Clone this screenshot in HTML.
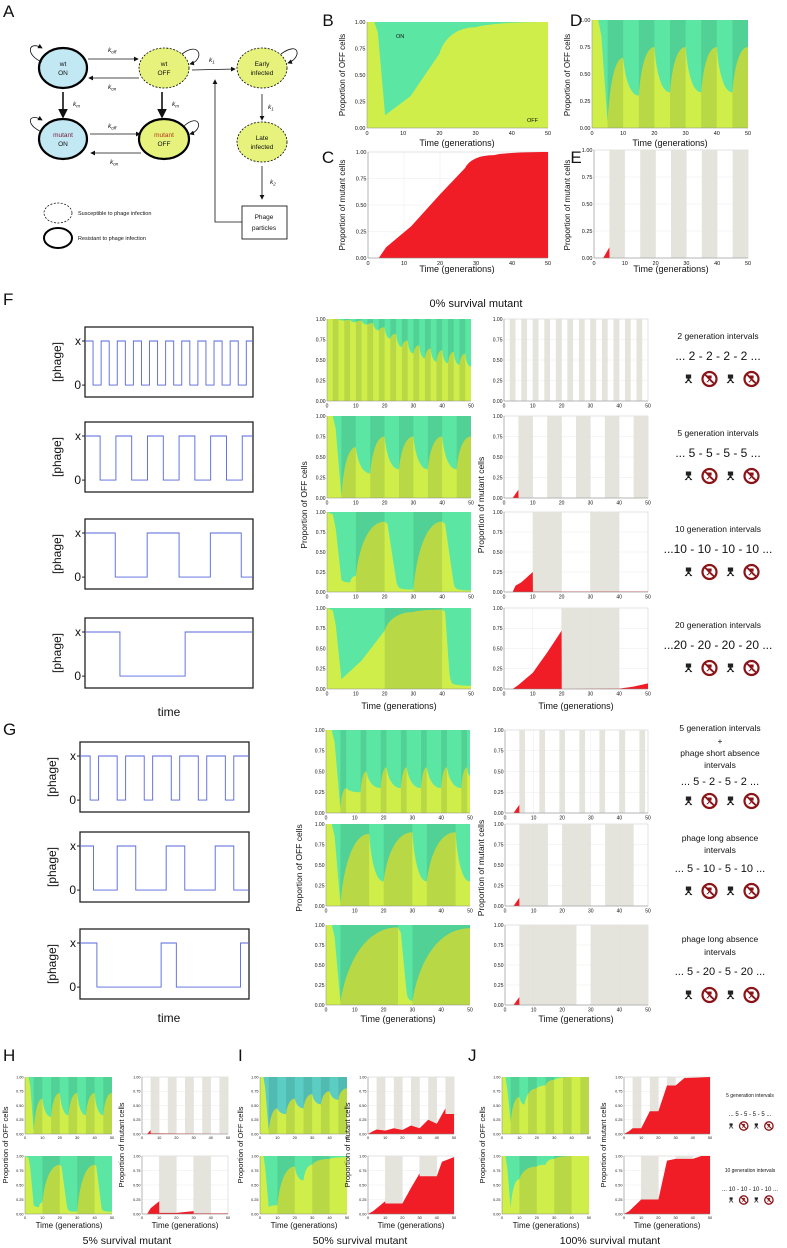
<!DOCTYPE html>
<html><head><meta charset="utf-8">
<style>
html,body{margin:0;padding:0;background:#fff;}
svg{display:block;font-family:"Liberation Sans",sans-serif;}
</style></head>
<body>
<svg id="fig" width="787" height="1248" viewBox="0 0 787 1248" xmlns="http://www.w3.org/2000/svg">
<defs>
<marker id="ah" markerWidth="6" markerHeight="6" refX="5" refY="3" orient="auto"><path d="M0,0 L6,3 L0,6 z" fill="#111"/></marker>
</defs>
<g font-size="6.5" fill="#111">
<text x="3" y="17" font-size="17">A</text>
<ellipse cx="63" cy="68" rx="24" ry="20" fill="#c2e8f4" stroke="#000" stroke-width="2.2"/>
<text x="63" y="66" text-anchor="middle">wt</text><text x="63" y="75" text-anchor="middle">ON</text>
<ellipse cx="164" cy="68" rx="25" ry="20" fill="#e6f27c" stroke="#000" stroke-width="0.8" stroke-dasharray="2,1.5"/>
<text x="164" y="66" text-anchor="middle">wt</text><text x="164" y="75" text-anchor="middle">OFF</text>
<ellipse cx="262" cy="68" rx="25" ry="20" fill="#e6f27c" stroke="#000" stroke-width="0.8" stroke-dasharray="2,1.5"/>
<text x="262" y="66" text-anchor="middle">Early</text><text x="262" y="75" text-anchor="middle">infected</text>
<ellipse cx="63" cy="139" rx="24" ry="20" fill="#c2e8f4" stroke="#000" stroke-width="2.2"/>
<text x="63" y="137" text-anchor="middle" fill="#7a1a3a">mutant</text><text x="63" y="146" text-anchor="middle">ON</text>
<ellipse cx="164" cy="139" rx="25" ry="20" fill="#e6f27c" stroke="#000" stroke-width="2.2"/>
<text x="164" y="137" text-anchor="middle" fill="#b23a1a">mutant</text><text x="164" y="146" text-anchor="middle">OFF</text>
<ellipse cx="262" cy="142" rx="25" ry="20" fill="#e6f27c" stroke="#000" stroke-width="0.8" stroke-dasharray="2,1.5"/>
<text x="262" y="140" text-anchor="middle">Late</text><text x="262" y="149" text-anchor="middle">infected</text>
<rect x="242" y="206" width="45" height="33" fill="#fff" stroke="#000" stroke-width="0.8"/>
<text x="264" y="219" text-anchor="middle">Phage</text><text x="264" y="230" text-anchor="middle">particles</text>
<g stroke="#111" stroke-width="0.8" fill="none" marker-end="url(#ah)">
<line x1="88" y1="59" x2="138" y2="59"/><line x1="139" y1="78" x2="89" y2="78"/>
<line x1="90" y1="134" x2="140" y2="134"/><line x1="141" y1="153" x2="91" y2="153"/>
<line x1="63" y1="92" x2="63" y2="117" stroke-width="1.6"/><line x1="162" y1="92" x2="162" y2="117" stroke-width="1.6"/>
<line x1="192" y1="70" x2="235" y2="69"/><line x1="262" y1="94" x2="262" y2="120"/><line x1="262" y1="166" x2="262" y2="199"/>
<polyline points="242,222 215,222 215,80"/>
<path d="M42,62 C25,55 28,40 42,48"/><path d="M182,54 C200,40 205,60 190,64"/><path d="M281,54 C300,40 302,58 288,63"/>
<path d="M42,132 C25,125 28,112 42,120"/><path d="M184,126 C200,112 204,130 190,134"/>
</g>
<g font-style="italic" font-size="6.5">
<text x="108" y="52">k<tspan font-size="4.5" dy="1.5">off</tspan></text>
<text x="108" y="89">k<tspan font-size="4.5" dy="1.5">on</tspan></text>
<text x="108" y="128">k<tspan font-size="4.5" dy="1.5">off</tspan></text>
<text x="110" y="164">k<tspan font-size="4.5" dy="1.5">on</tspan></text>
<text x="73" y="106">k<tspan font-size="4.5" dy="1.5">m</tspan></text>
<text x="172" y="106">k<tspan font-size="4.5" dy="1.5">m</tspan></text>
<text x="209" y="62">k<tspan font-size="4.5" dy="1.5">1</tspan></text>
<text x="268" y="109">k<tspan font-size="4.5" dy="1.5">1</tspan></text>
<text x="270" y="184">k<tspan font-size="4.5" dy="1.5">2</tspan></text>
</g>
<ellipse cx="58" cy="213" rx="14" ry="10" fill="none" stroke="#000" stroke-width="0.7" stroke-dasharray="2,1.5"/>
<text x="78" y="215" font-size="5.5">Susceptible to phage infection</text>
<ellipse cx="58" cy="238" rx="14" ry="10" fill="none" stroke="#000" stroke-width="2"/>
<text x="78" y="240" font-size="5.5">Resistant to phage infection</text>
</g>
<g id="dyn"></g>
</svg>
<script>
// ---------- data ----------
const yTicks = ["0.00","0.25","0.50","0.75","1.00"];
const yTickVals = [0,0.25,0.5,0.75,1];
const xTicks = [0,10,20,30,40,50];
const bands2 = [[2,4],[6,8],[10,12],[14,16],[18,20],[22,24],[26,28],[30,32],[34,36],[38,40],[42,44],[46,48]];
const bands5 = [[5,10],[15,20],[25,30],[35,40],[45,50]];
const bands10 = [[10,20],[30,40]];
const bands20 = [[20,40]];
const bands52 = [[5,7],[12,14],[19,21],[26,28],[33,35],[40,42],[47,49]];
const bands510 = [[5,15],[20,30],[35,45]];
const bands520 = [[5,25],[30,50]];
// OFF proportions [generation, value, linear?]
const offB = [[0,1],[2,1,1],[3,0.9,1],[5,0.12,1],[12,0.3,1],[20,0.7,1],[30,0.95],[50,1]];
const offD = [[0,1],[2,1,1],[3,0.85,1],[5,0.05,1],[10,0.65],[15,0.3],[20,0.75],[25,0.33],[30,0.75],[35,0.33],[40,0.75],[45,0.33],[50,0.75]];
const offF1 = [[0,1],[2,1],[4,1],[6,0.98],[8,0.99],[10,0.96],[12,0.98],[14,0.93],[16,0.95],[18,0.86],[20,0.9],[22,0.76],[24,0.82],[26,0.66],[28,0.74],[30,0.58],[32,0.68],[34,0.52],[36,0.64],[38,0.48],[40,0.62],[42,0.46],[44,0.6],[46,0.44],[48,0.58],[50,0.42]];
const offF2 = [[0,1],[2,1,1],[3,0.85,1],[5,0.02,1],[10,0.62],[15,0.3],[20,0.75],[25,0.35],[30,0.75],[35,0.35],[40,0.75],[45,0.35],[50,0.75]];
const offF3 = [[0,1],[2,0.97,1],[3,0.8,1],[5,0.15,1],[8,0.12],[10,0.2],[20,0.88],[21,0.85,1],[24,0.15,1],[26,0.04],[30,0.03],[40,0.88],[41,0.85,1],[44,0.1,1],[46,0.03],[50,0.02]];
const offF4 = [[0,1],[2,0.97,1],[3,0.8,1],[5,0.12,1],[12,0.35,1],[20,0.72,1],[30,0.95],[40,0.98],[41,0.95,1],[42.5,0.2,1],[44,0.06],[50,0.04]];
const offG1 = [[0,1],[2,1,1],[3,0.85,1],[5,0.05,1],[7,0.3],[12,0.25],[14,0.5],[19,0.3],[21,0.55],[26,0.3],[28,0.55],[33,0.3],[35,0.55],[40,0.3],[42,0.55],[47,0.3],[49,0.55],[50,0.45]];
const offG2 = [[0,1],[2,1,1],[3,0.85,1],[5,0.03,1],[15,0.88],[20,0.3],[30,0.9],[35,0.3],[45,0.9],[50,0.3]];
const offG3 = [[0,1],[2,1,1],[3,0.85,1],[5,0.04,1],[25,0.97],[26,0.9,1],[28,0.15,1],[30,0.05],[50,0.96]];
const offH1 = [[0,1],[2,1,1],[3,0.85,1],[5,0.05,1],[10,0.62],[15,0.3],[20,0.72],[25,0.33],[30,0.72],[35,0.33],[40,0.72],[45,0.33],[50,0.72]];
const offH2 = [[0,1],[2,0.97,1],[3,0.8,1],[5,0.15,1],[8,0.12],[10,0.2],[20,0.85],[21,0.82,1],[24,0.15,1],[26,0.05],[30,0.04],[40,0.85],[41,0.82,1],[44,0.1,1],[46,0.05],[50,0.04]];
const offI1 = [[0,1],[2,1,1],[3,0.8,1],[5,0.05,1],[10,0.45],[15,0.35],[20,0.62],[25,0.45],[30,0.7],[35,0.52],[40,0.75],[45,0.6],[50,0.8]];
const offI2 = [[0,1],[2,1,1],[3,0.8,1],[5,0.12,1],[10,0.15],[20,0.82],[25,0.58],[30,0.85],[40,0.95],[50,0.98]];
const offJ1 = [[0,1],[2,1,1],[3,0.8,1],[5,0.2,1],[10,0.65],[13,0.52],[20,0.8],[25,0.85],[30,0.95],[40,1],[50,1]];
const offJ2 = [[0,1],[2,1,1],[3,0.8,1],[5,0.1,1],[10,0.6],[20,0.82],[25,0.85],[30,0.95],[40,1],[50,1]];
// mutant proportions
const mutC = [[0,0],[3,0,1],[5,0.1,1],[12,0.3,1],[20,0.6,1],[27,0.85,1],[35,0.97],[50,1]];
const mutZero = [[0,0],[50,0,1]];
const mutSpike = [[0,0],[3,0,1],[5,0.1,1],[5.05,0,1],[50,0,1]];
const mutF3 = [[0,0],[3,0,1],[4,0.08,1],[6,0.12,1],[10,0.25,1],[10.05,0.005,1],[50,0.005,1]];
const mutF4 = [[0,0],[3,0,1],[5,0.05,1],[10,0.2,1],[15,0.45,1],[20,0.72,1],[20.05,0,1],[40,0.005,1],[45,0.03,1],[50,0.07,1]];
const mutH1 = [[0,0],[3,0,1],[5,0.07,1],[5.05,0.01,1],[10,0.01,1],[50,0,1]];
const mutH2 = [[0,0],[3,0,1],[5,0.1,1],[10,0.22,1],[10.05,0.02,1],[20,0.02,1],[30,0.05,1],[30.05,0.01,1],[50,0.01,1]];
const mutI1 = [[0,0],[3,0.05,1],[5,0.08,1],[10,0.06,1],[15,0.1,1],[20,0.07,1],[25,0.15,1],[30,0.1,1],[35,0.25,1],[40,0.18,1],[45,0.45,1],[45.05,0.35,1],[50,0.35,1]];
const mutI2 = [[0,0],[3,0.05,1],[10,0.22,1],[10.05,0.18,1],[20,0.18,1],[25,0.45,1],[30,0.7,1],[30.05,0.65,1],[40,0.65,1],[43,0.9,1],[50,0.98,1]];
const mutJ1 = [[0,0],[3,0.05,1],[5,0.1,1],[10,0.1,1],[15,0.4,1],[20,0.4,1],[25,0.85,1],[30,0.85,1],[35,0.98,1],[50,1,1]];
const mutJ2 = [[0,0],[3,0.05,1],[10,0.25,1],[20,0.25,1],[25,0.92,1],[30,0.95,1],[40,0.95,1],[45,1,1],[50,1,1]];
// phage schedules (durations, alternating high/low, starting high)
const phF1 = [2.4,2.4,2.4,2.4,2.4,2.4,2.4,2.4,2.4,2.4,2.4,2.4,2.4,2.4,2.4,2.4,2.4,2.4,2.4,2.4,2];
const phF2 = [4.5,4.7,4.7,4.7,4.7,4.7,4.7,4.7,4.7,4.7,3.2];
const phF3 = [9,9.5,9.5,9.3,9.2,3.5];
const phF4 = [10.4,19.4,20.2];
const phG1 = [3,2.5,5.5,2.5,5.5,2.5,5.5,2.5,5.5,2.5,5.5,2.5,4.5];
const phG2 = [4,7,5.5,9,5.5,9,5.5,4.5];
const phG3 = [5,19,4.5,19,2.5];

// ---------- drawing ----------
const NS="http://www.w3.org/2000/svg";
const root=document.getElementById('dyn');
function mk(tag,attrs,parent){const e=document.createElementNS(NS,tag);for(const k in attrs)e.setAttribute(k,attrs[k]);(parent||root).appendChild(e);return e;}
function txt(x,y,s,size,opts,parent){const e=mk('text',Object.assign({x:x,y:y,'font-size':size,fill:'#111'},opts||{}),parent);e.textContent=s;return e;}
function curvePath(pts,px,py){
  let d='M'+px(pts[0][0])+','+py(pts[0][1]);
  for(let i=1;i<pts.length;i++){
    const x1=px(pts[i-1][0]),y1=py(pts[i-1][1]),x2=px(pts[i][0]),y2=py(pts[i][1]);
    if(pts[i][2]){d+=' L'+x2+','+y2;}
    else{const dx=x2-x1;d+=' C'+(x1+dx*0.12)+','+(y1+(y2-y1)*0.55)+' '+(x1+dx*0.45)+','+(y2)+' '+x2+','+y2;}
  }
  return d;
}
function axes(g,x,y,w,h,fs,px,py){
  g.appendChild(mk('line',{x1:x,y1:y,x2:x,y2:y+h,stroke:'#888','stroke-width':0.5}));
  g.appendChild(mk('line',{x1:x,y1:y+h,x2:x+w,y2:y+h,stroke:'#888','stroke-width':0.5}));
  yTickVals.forEach((v,i)=>{const t=txt(x-1.5,py(v)+fs*0.35,yTicks[i],fs,{'text-anchor':'end'},g);
    
    });
  xTicks.forEach(v=>{const t=txt(px(v),y+h+fs*1.25,String(v),fs,{'text-anchor':'middle'},g);
    
    });
}
function offChart(name,x,y,w,h,bands,pts,fs,up){
  const g=mk('g',{});
  
  
  const px=t=>x+t/50*w, py=v=>y+h-v*h;
  const bg=mk('rect',{x:x,y:y,width:w,height:h,fill:up||'#5ce6a3'},g);
  
  
  const a=mk('path',{d:curvePath(pts,px,py)+' L'+px(50)+','+py(0)+' L'+px(0)+','+py(0)+' Z',fill:'#d0ee4a'},g);
  
  
  bands.forEach(b=>{const r=mk('rect',{x:px(b[0]),y:y,width:px(b[1])-px(b[0]),height:h,fill:'rgba(0,50,40,0.11)'},g);
    
    });
  axes(g,x,y,w,h,fs,px,py);
  return g;
}
function mutChart(name,x,y,w,h,bands,pts,fs){
  const g=mk('g',{});
  
  
  const px=t=>x+t/50*w, py=v=>y+h-v*h;
  mk('rect',{x:x,y:y,width:w,height:h,fill:'#fff',stroke:'#ccc','stroke-width':0.5},g);
  bands.forEach(b=>{const r=mk('rect',{x:px(b[0]),y:y,width:px(b[1])-px(b[0]),height:h,fill:'#e5e4dc'},g);
    
    });
  yTickVals.forEach(v=>mk('line',{x1:x,x2:x+w,y1:py(v),y2:py(v),stroke:'#ddd','stroke-width':0.3},g));
  xTicks.forEach(v=>mk('line',{x1:px(v),x2:px(v),y1:y,y2:y+h,stroke:'#ddd','stroke-width':0.3},g));
  const a=mk('path',{d:curvePath(pts,px,py)+' L'+px(50)+','+py(0)+' L'+px(0)+','+py(0)+' Z',fill:'#f01c26'},g);
  
  
  axes(g,x,y,w,h,fs,px,py);
  return g;
}
function phageChart(name,x,y,w,h,dur){
  const g=mk('g',{});
  
  
  mk('rect',{x:x,y:y,width:w,height:h,fill:'#fff',stroke:'#222','stroke-width':1.3},g);
  const hi=y+h*0.2, lo=y+h*0.83, tot=dur.reduce((s,d)=>s+d,0);
  let t=0,d='M'+x+','+hi;
  dur.forEach((dd,i)=>{const yy=i%2?lo:hi;const x1=x+t/tot*w;t+=dd;const x2=x+t/tot*w;d+=' L'+x1+','+yy+' L'+x2+','+yy;});
  const p=mk('path',{d:d,fill:'none',stroke:'#5566dd','stroke-width':0.9},g);
  
  
  const lx=txt(x-4,hi+4,'x',12,{'text-anchor':'end'},g);
  
  
  const l0=txt(x-4,lo+4,'0',12,{'text-anchor':'end'},g);
  
  
  mk('line',{x1:x-3,x2:x,y1:hi,y2:hi,stroke:'#222'},g);mk('line',{x1:x-3,x2:x,y1:lo,y2:lo,stroke:'#222'},g);
  const yl=txt(0,0,'[phage]',12,{'text-anchor':'middle',transform:'translate('+(x-24)+','+(y+h/2)+') rotate(-90)'},g);
  
  
}
function vtitle(name,x,y,s,fs){const t=txt(0,0,s,fs,{'text-anchor':'middle',transform:'translate('+x+','+y+') rotate(-90)'});
  
  }
function label(name,x,y,s,fs,anchor){const t=txt(x,y,s,fs,{'text-anchor':anchor||'middle'});
  
  }
function phageIcon(cx,cy,s,col,parent){
  mk('path',{d:`M${cx-2.2*s},${cy-4*s} h${4.4*s} v${3*s} h-${4.4*s} z M${cx-0.6*s},${cy-1*s} h${1.2*s} v${2.5*s} h-${1.2*s} z M${cx},${cy+1*s} L${cx-3.5*s},${cy+4*s} M${cx},${cy+1*s} L${cx+3.5*s},${cy+4*s} M${cx-1},${cy+1*s} L${cx-2*s},${cy+4*s} M${cx+1},${cy+1*s} L${cx+2*s},${cy+4*s}`,fill:col,stroke:col,'stroke-width':0.9*s},parent);
}
function iconRow(name,cx,cy,s){
  const g=mk('g',{});
  
  
  [-1.5,-0.5,0.5,1.5].forEach((k,i)=>{const x=cx+k*21*s;
    if(i%2===0){phageIcon(x,cy,s,'#222',g);}
    else{mk('circle',{cx:x,cy:cy,r:7*s,fill:'#fff',stroke:'#8a1418','stroke-width':2.2*s},g);phageIcon(x,cy,s*0.8,'#8a1418',g);
      mk('line',{x1:x-5*s,y1:cy-5*s,x2:x+5*s,y2:cy+5*s,stroke:'#8a1418','stroke-width':1.8*s},g);}
  });
}

// ---------- panels B-E ----------
label('panel-label-b',328,26,'B',17);
label('panel-label-c',328,163,'C',17);
label('panel-label-d',576,26,'D',17);
label('panel-label-e',576,163,'E',17);
offChart('chart-b-off',367,22,181,106,[],offB,5.5);
label('label-on',372+24,38,'ON',5.5,'start');
label('label-off',367+160,122,'OFF',5.5,'start');
mutChart('chart-c-mutant',368,152,180,106,[],mutC,5.5);
offChart('chart-d-off',592,20,156,108,bands5,offD,5.5);
mutChart('chart-e-mutant',594,150,154,108,bands5,mutSpike,5.5);
vtitle('y-title-b',345,75,'Proportion of OFF cells',8);
vtitle('y-title-c',345,205,'Proportion of mutant cells',8);
vtitle('y-title-d',570,75,'Proportion of OFF cells',8);
vtitle('y-title-e',570,205,'Proportion of mutant cells',8);
label('x-title-b',457,146,'Time (generations)',9);
label('x-title-c',457,272,'Time (generations)',9);
label('x-title-d',670,146,'Time (generations)',9);
label('x-title-e',671,272,'Time (generations)',9);

// ---------- panel F ----------
label('panel-label-f',3,305,'F',17,'start');
label('title-f',476,307,'0% survival mutant',11);
const fRows=[[319,82,327,phF1,offF1,mutZero,bands2,"2 generation intervals","... 2 - 2 - 2 - 2 ..."],
             [416,82,422,phF2,offF2,mutSpike,bands5,"5 generation intervals","... 5 - 5 - 5 - 5 ..."],
             [512,80,519,phF3,offF3,mutF3,bands10,"10 generation intervals","...10 - 10 - 10 - 10 ..."],
             [608,81,618,phF4,offF4,mutF4,bands20,"20 generation intervals","...20 - 20 - 20 - 20 ..."]];
fRows.forEach((r,i)=>{
  phageChart('phage-schedule-f'+(i+1),85,r[2],168,70,r[3]);
  offChart('chart-f'+(i+1)+'-off',327,r[0],144,r[1],r[6],r[4],5);
  mutChart('chart-f'+(i+1)+'-mutant',504,r[0],144,r[1],r[6],r[5],5);
  label('interval-title-f'+(i+1),718,r[0]+20,r[7],8.5);
  label('interval-sequence-f'+(i+1),718,r[0]+41,r[8],12);
  iconRow('phage-icons-f'+(i+1),720,r[0]+60,1);
});
vtitle('y-title-f-off',307,505,'Proportion of OFF cells',8.5);
vtitle('y-title-f-mutant',484,505,'Proportion of mutant cells',8.5);
label('x-title-f-off',399,709,'Time (generations)',9);
label('x-title-f-mutant',576,709,'Time (generations)',9);
label('x-title-f-phage',169,716,'time',12);

// ---------- panel G ----------
label('panel-label-g',3,735,'G',17,'start');
const gRows=[[730,83,742,phG1,offG1,mutSpike,bands52],[824,82,832,phG2,offG2,mutSpike,bands510],[925,80,929,phG3,offG3,mutSpike,bands520]];
gRows.forEach((r,i)=>{
  phageChart('phage-schedule-g'+(i+1),80,r[2],169,70,r[3]);
  offChart('chart-g'+(i+1)+'-off',326,r[0],144,r[1],r[6],r[4],5);
  mutChart('chart-g'+(i+1)+'-mutant',505,r[0],143,r[1],r[6],r[5],5);
});
vtitle('y-title-g-off',302,868,'Proportion of OFF cells',8.5);
vtitle('y-title-g-mutant',484,868,'Proportion of mutant cells',8.5);
label('g1-text-1',720,731,'5 generation intervals',8.5);
label('g1-text-2',720,744,'+',8.5);
label('g1-text-3',720,756,'phage short absence',8.5);
label('g1-text-4',720,768,'intervals',8.5);
label('g1-sequence',720,785,'... 5 - 2 - 5 - 2 ...',11);
iconRow('phage-icons-g1',720,801,1);
label('g2-text-1',720,841,'phage long absence',8.5);
label('g2-text-2',720,853,'intervals',8.5);
label('g2-sequence',720,872,'... 5 - 10 - 5 - 10 ...',11);
iconRow('phage-icons-g2',720,891,1);
label('g3-text-1',720,942,'phage long absence',8.5);
label('g3-text-2',720,955,'intervals',8.5);
label('g3-sequence',720,975,'... 5 - 20 - 5 - 20 ...',11);
iconRow('phage-icons-g3',720,995,1);
label('x-title-g-off',398,1022,'Time (generations)',9);
label('x-title-g-mutant',576,1022,'Time (generations)',9);
label('x-title-g-phage',169,1022,'time',12);

// ---------- panels H, I, J ----------
label('panel-label-h',3,1061,'H',17,'start');
label('panel-label-i',238,1061,'I',17,'start');
label('panel-label-j',468,1061,'J',17,'start');
const hij=[['h',25,142,offH1,offH2,mutH1,mutH2,null],['i',260,368,offI1,offI2,mutI1,mutI2,'#5ccdc3'],['j',502,624,offJ1,offJ2,mutJ1,mutJ2,null]];
hij.forEach(p=>{
  offChart('chart-'+p[0]+'1-off',p[1],1077,87,57,bands5,p[3],3.8,p[7]);
  offChart('chart-'+p[0]+'2-off',p[1],1156,87,58,bands10,p[4],3.8);
  mutChart('chart-'+p[0]+'1-mutant',p[2],1077,86,57,bands5,p[5],3.8);
  mutChart('chart-'+p[0]+'2-mutant',p[2],1156,86,58,bands10,p[6],3.8);
  vtitle('y-title-'+p[0]+'-off',p[1]-17,1145,'Proportion of OFF cells',7.5);
  vtitle('y-title-'+p[0]+'-mutant',p[2]-18,1145,'Proportion of mutant cells',7.5);
  label('x-title-'+p[0]+'-off',p[1]+44,1228,'Time (generations)',8);
  label('x-title-'+p[0]+'-mutant',p[2]+43,1228,'Time (generations)',8);
});
label('title-h',127,1244,'5% survival mutant',10.5);
label('title-i',360,1244,'50% survival mutant',10.5);
label('title-j',610,1244,'100% survival mutant',10.5);
label('j-text-1',750,1097,'5 generation intervals',5);
label('j-sequence-1',750,1116,'... 5 - 5 - 5 - 5 ...',6);
iconRow('phage-icons-j1',750,1126,0.6);
label('j-text-2',750,1172,'10 generation intervals',5);
label('j-sequence-2',750,1191,'... 10 - 10 - 10 - 10 ...',6);
iconRow('phage-icons-j2',750,1200,0.6);
</script>
</body></html>
